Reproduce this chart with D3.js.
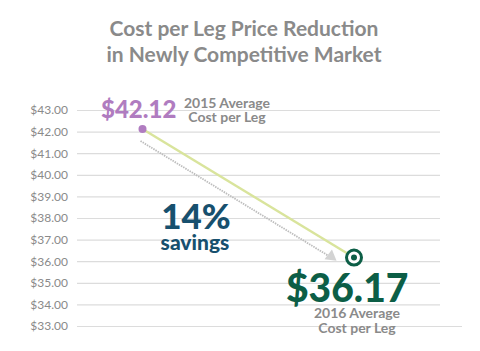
<!DOCTYPE html>
<html>
<head>
<meta charset="utf-8">
<script src="https://cdn.jsdelivr.net/npm/d3@7"></script>
<style>
  body { margin: 0; background: #fff; }
  text { font-family: Lato, "Open Sans", sans-serif; }
</style>
</head>
<body>
<div id="chart"></div>
<script>
// data
let years = [2015, 2016]
let costs = [42.12, 36.17]
let tickValues = [33, 34, 35, 36, 37, 38, 39, 40, 41, 42, 43]
let titleLines = ['Cost per Leg Price Reduction', 'in Newly Competitive Market']
let yearLabels = [['2015 Average', 'Cost per Leg'], ['2016 Average', 'Cost per Leg']]
let savingsText = ['14%', 'savings']

let width = 480
let height = 351

let grey = '#8a8a8a'
let purple = '#b07cc0'
let green = '#0c5e46'
let blue = '#17506e'

const svg = d3.select('#chart')
	.append('svg')
	.attr('width', width)
	.attr('height', height)

let xScale = d3.scaleLinear()
	.domain(years)
	.range([142.5, 354])

let yScale = d3.scaleLinear()
	.domain([33, 43])
	.range([326, 110])

// title
svg.append('g')
	.selectAll('text')
	.data(titleLines)
	.enter()
	.append('text')
	.attr('x', 244)
	.attr('y', (d, i) => 36 + i * 26)
	.attr('text-anchor', 'middle')
	.attr('font-size', 21)
	.attr('font-weight', 700)
	.attr('fill', grey)
	.text(d => d)

// y axis + grid
let yAxis = g => g.attr('transform', 'translate(77,0)')
	.call(d3.axisLeft(yScale)
		.tickValues(tickValues)
		.tickFormat(d3.format('$.2f'))
		.tickSize(-(440 - 77))
		.tickPadding(9))
	.call(g => g.select('.domain').remove())

let yG = svg.append('g').call(yAxis)

yG.selectAll('line').attr('stroke', '#dcdcdc').attr('stroke-width', 1.2)
yG.selectAll('text').attr('fill', grey).attr('font-size', 12).attr('font-family', 'Lato, sans-serif')
// bottom line runs a little longer
yG.selectAll('.tick').filter(d => d == d3.min(tickValues))
	.select('line').attr('x2', 462 - 77)

// dotted arrow beside the line
svg.append('path')
	.attr('d', 'M' + (xScale(years[0]) - 2) + ',' + (yScale(costs[0]) + 12) +
		' L' + (xScale(years[1]) - 26) + ',' + (yScale(costs[1]) - 2))
	.attr('stroke', '#bdbdbd')
	.attr('stroke-width', 1.8)
	.attr('stroke-dasharray', '1.5,1')
	.attr('fill', 'none')

svg.append('path')
	.attr('d', d3.symbol(d3.symbolTriangle, 64)())
	.attr('transform', 'translate(' + (xScale(years[1]) - 23) + ',' + (yScale(costs[1]) - 1) + ') rotate(8)')
	.attr('fill', '#d3d3d3')

// main line
let line = d3.line()
	.x((d, i) => xScale(years[i]))
	.y(d => yScale(d))

svg.append('path')
	.datum(costs)
	.attr('d', line)
	.attr('stroke', '#d9e49c')
	.attr('stroke-width', 2.5)
	.attr('fill', 'none')

// 2015 point
svg.append('circle')
	.attr('cx', xScale(years[0]))
	.attr('cy', yScale(costs[0]))
	.attr('r', 4)
	.attr('fill', purple)

// 2016 target marker
svg.append('circle')
	.attr('cx', xScale(years[1]))
	.attr('cy', yScale(costs[1]))
	.attr('r', 7.5)
	.attr('fill', '#fff')
	.attr('stroke', green)
	.attr('stroke-width', 3)

svg.append('circle')
	.attr('cx', xScale(years[1]))
	.attr('cy', yScale(costs[1]))
	.attr('r', 3)
	.attr('fill', green)

// value labels
svg.append('text')
	.attr('x', 101)
	.attr('y', 118)
	.attr('font-size', 24)
	.attr('font-weight', 900)
	.attr('fill', purple)
	.text(d3.format('$.2f')(costs[0]))

svg.append('text')
	.attr('x', 286)
	.attr('y', 302)
	.attr('font-size', 39)
	.attr('font-weight', 900)
	.attr('fill', green)
	.text(d3.format('$.2f')(costs[1]))

svg.append('g')
	.selectAll('text')
	.data(yearLabels[0])
	.enter()
	.append('text')
	.attr('x', 227)
	.attr('y', (d, i) => 108 + i * 14)
	.attr('text-anchor', 'middle')
	.attr('font-size', 14)
	.attr('font-weight', 700)
	.attr('fill', grey)
	.text(d => d)

svg.append('g')
	.selectAll('text')
	.data(yearLabels[1])
	.enter()
	.append('text')
	.attr('x', 357)
	.attr('y', (d, i) => 318 + i * 15)
	.attr('text-anchor', 'middle')
	.attr('font-size', 14)
	.attr('font-weight', 700)
	.attr('fill', grey)
	.text(d => d)

// savings callout
svg.append('text')
	.attr('x', 196)
	.attr('y', 229)
	.attr('text-anchor', 'middle')
	.attr('font-size', 35)
	.attr('font-weight', 900)
	.attr('fill', blue)
	.text(savingsText[0])

svg.append('text')
	.attr('x', 195)
	.attr('y', 250)
	.attr('text-anchor', 'middle')
	.attr('font-size', 21)
	.attr('font-weight', 900)
	.attr('fill', blue)
	.text(savingsText[1])
</script>
</body>
</html>
